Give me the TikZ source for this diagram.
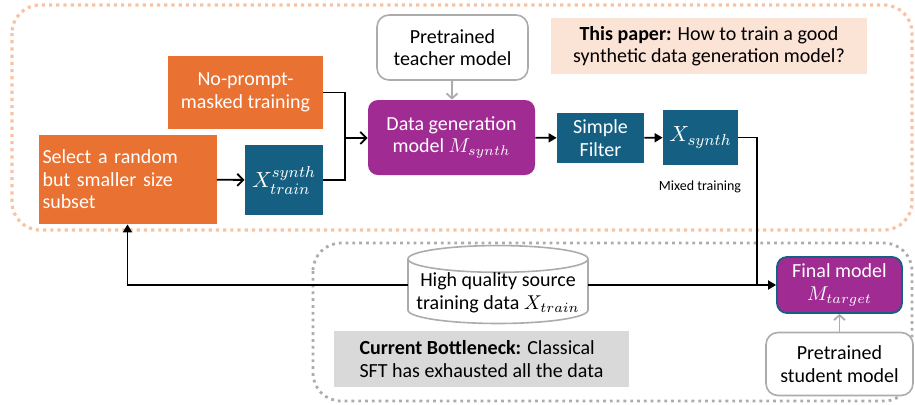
\documentclass[tikz,border=0pt]{standalone}
\usepackage{fontspec}
\setmainfont{Carlito}
\usetikzlibrary{shapes.geometric, arrows.meta}
\definecolor{boxorange}{HTML}{E97132}
\definecolor{boxteal}{HTML}{156082}
\definecolor{boxpurple}{HTML}{A02B93}
\definecolor{paperfill}{HTML}{FBE3D6}
\definecolor{paperline}{HTML}{F7C3A4}
\definecolor{linegray}{HTML}{ACACAC}
\definecolor{bottlefill}{HTML}{D9D9D9}
\begin{document}
\begin{tikzpicture}[x=0.5pt, y=-0.5pt, font=\fontsize{10}{11.25}\selectfont,
	orangebox/.style={fill=boxorange, text=white, inner sep=2pt},
	tealbox/.style={fill=boxteal, text=white, align=center, inner sep=1pt},
	purplebox/.style={fill=boxpurple, text=white, align=center, rounded corners=5pt, inner sep=1pt},
	graybox/.style={draw=linegray, line width=0.8pt, fill=white, align=center, rounded corners=6pt, inner sep=1pt},
	flow/.style={-{Straight Barb[length=3pt,width=6pt]}, line width=0.9pt},
	fillflow/.style={-{Triangle[length=4pt,width=4.5pt]}, line width=0.9pt},
	grayflow/.style={-{Straight Barb[length=2.5pt,width=5.5pt]}, line width=0.9pt, linegray},
	bigmath/.style={font=\fontsize{11}{13}\selectfont}]
	\useasboundingbox (0,0) rectangle (915,404);
	% dotted frames
	\draw[paperline, dotted, line width=1.6pt, rounded corners=14pt] (12,5) rectangle (912,230);
	\draw[linegray, dotted, line width=1.4pt, rounded corners=14pt] (313,243) rectangle (912,401);
	% top part
	\node[orangebox, align=center, minimum width=77.5pt, minimum height=36.5pt] (nopr) at (245.5,92.5) {No-prompt-\\masked training};
	\node[orangebox, align=left, text width=85pt, minimum height=44.5pt] (select) at (127.5,179.5) {Select a random\\but smaller size\\subset};
	\node[tealbox, bigmath, minimum width=39pt, minimum height=35pt] (xtrs) at (284,180) {$X_{train}^{synth}$};
	\node[purplebox, minimum width=83.5pt, minimum height=37.5pt] (gen) at (451.5,137.5) {Data generation\\model $M_{synth}$};
	\node[graybox, minimum width=75.5pt, minimum height=32.5pt] (teacher) at (452.5,47.5) {Pretrained\\teacher model};
	\node[tealbox, minimum width=43.5pt, minimum height=25pt] (filter) at (600.5,138) {Simple\\Filter};
	\node[tealbox, bigmath, minimum width=37.5pt, minimum height=27.5pt] (xs) at (700.5,137.5) {$X_{synth}$};
	\node[fill=paperfill, align=center, minimum width=158pt, minimum height=28pt, inner sep=1pt] (paper) at (709,46) {\textbf{This paper:} How to train a good\\synthetic data generation model?};
	\node[font=\fontsize{7}{8.5}\selectfont] (mixed) at (700,187) {Mixed training};
	% bottom part
	\node[cylinder, shape border rotate=90, draw=linegray, line width=0.8pt, fill=white, aspect=0.16, minimum width=90pt, minimum height=30pt, align=center, inner xsep=1pt, inner ysep=0pt] (src) at (498,293) {High quality source\\training data $X_{train}$};
	\node[purplebox, draw=boxteal, line width=0.9pt, minimum width=62.5pt, minimum height=28pt] (final) at (839.5,285) {Final model\\$M_{target}$};
	\node[graybox, minimum width=73.5pt, minimum height=31.5pt] (student) at (839.5,364) {Pretrained\\student model};
	\node[fill=bottlefill, align=left, minimum width=147.5pt, minimum height=28pt, inner sep=1pt] (bottle) at (481.5,359) {\textbf{Current Bottleneck:} Classical\\SFT has exhausted all the data};
	\coordinate (m) at (345,138);
	\coordinate (j) at (757,285);
	\coordinate (srcl) at (408,285);
	\coordinate (srcr) at (588,285);
	% connectors
	\draw[flow] (select) -- (xtrs);
	\draw[line width=0.9pt] (nopr.east) -| (m);
	\draw[line width=0.9pt] (xtrs.east) -| (m);
	\draw[flow] (m) -- (gen);
	\draw[grayflow] (teacher) -- (gen);
	\draw[fillflow] (gen) -- (filter);
	\draw[fillflow] (filter) -- (xs);
	\draw[line width=0.9pt] (xs.east) -| (j);
	\draw[fillflow] (srcl) -| (select);
	\draw[fillflow] (srcr) -- (final);
	\draw[grayflow] (student) -- (final);
\end{tikzpicture}
\end{document}
